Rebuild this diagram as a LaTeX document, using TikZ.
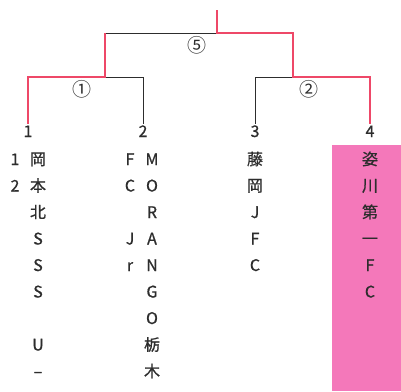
\documentclass[tikz,border=0pt]{standalone}
\usepackage{fontspec}
\setmainfont{Noto Sans CJK JP}
\newfontfamily\tatefont[FakeBold=0.8]{Noto Sans CJK JP}
\usepackage{tikz}
\usetikzlibrary{positioning,calc}
\definecolor{winred}{RGB}{238,72,104}
\definecolor{winpink}{RGB}{244,120,186}
\definecolor{inkgray}{RGB}{45,45,45}
\tikzset{
  winline/.style={winred, line width=2.5pt},
  loseline/.style={inkgray, line width=1pt},
  teamnum/.style={font=\tatefont\fontsize{16}{16}\selectfont, text=inkgray, inner sep=1pt, anchor=base},
  tatechar/.style={font=\tatefont\fontsize{16}{16}\selectfont, text=inkgray, inner sep=0pt, anchor=base},
  roundnum/.style={font=\fontsize{19}{19}\selectfont, text=inkgray, inner sep=0pt},
}

\begin{document}
\begin{tikzpicture}[x=1pt, y=-1pt]
  \useasboundingbox (0,0) rectangle (401,391);
  % 背景（優勝）
  \fill[winpink] (332,145) rectangle (401,391);
  % 組み合わせの点
  \coordinate (top) at (217,10);
  \coordinate (fin) at (217,33);
  \coordinate (finL) at (105,33);
  \coordinate (finR) at (293,33);
  \coordinate (sa) at (105,77);
  \coordinate (saL) at (28,77);
  \coordinate (saR) at (143,77);
  \coordinate (sb) at (293,77);
  \coordinate (sbL) at (255,77);
  \coordinate (sbR) at (370,77);
  % 番号
  \node[teamnum] (n1) at (28,137) {1};
  \node[teamnum] (n2) at (143,137) {2};
  \node[teamnum] (n3) at (255,137) {3};
  \node[teamnum] (n4) at (370,137) {4};
  % 線（負け）
  \draw[loseline] (finL) -- (fin);
  \draw[loseline] (sa) -- (saR) -- (n2.north);
  \draw[loseline] (sb) -- (sbL) -- (n3.north);
  % 線（勝ち）
  \draw[winline] (top) -- (fin) -- (finR) -- (sb) -- (sbR) -- (n4.north);
  \draw[winline] (finL) -- (sa) -- (saL) -- (n1.north);
  % 試合番号
  \node[roundnum] (r5) at (197,45) {⑤};
  \node[roundnum] (r1) at (82,89) {①};
  \node[roundnum] (r2) at (309,89) {②};
  % チーム名（縦書き）
  \foreach \ch [count=\i] in {岡,本,北,S,S,S,{},U,–}
    \node[tatechar] (ta\i) at (38,{165+26.5*(\i-1)}) {\ch};
  \foreach \ch [count=\i] in {1,2}
    \node[tatechar] (tb\i) at (15,{165+26.5*(\i-1)}) {\ch};
  \foreach \ch [count=\i] in {M,O,R,A,N,G,O,栃,木}
    \node[tatechar] (tc\i) at (152,{165+26.5*(\i-1)}) {\ch};
  \foreach \ch [count=\i] in {F,C,{},J,r}
    \node[tatechar] (td\i) at (130,{165+26.5*(\i-1)}) {\ch};
  \foreach \ch [count=\i] in {藤,岡,J,F,C}
    \node[tatechar] (te\i) at (255,{165+26.5*(\i-1)}) {\ch};
  \foreach \ch [count=\i] in {姿,川,第,一,F,C}
    \node[tatechar] (tf\i) at (370,{165+26.5*(\i-1)}) {\ch};
\end{tikzpicture}
\end{document}
